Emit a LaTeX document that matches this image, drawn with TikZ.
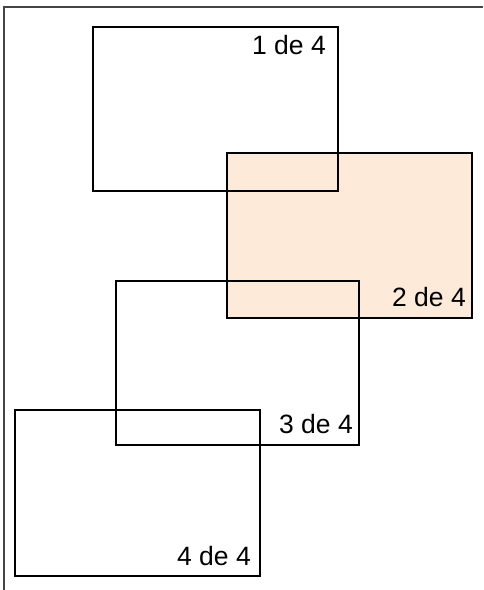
\documentclass[tikz,border=0pt]{standalone}
\usepackage{fontspec}
\setmainfont{Liberation Sans}
\definecolor{peach}{HTML}{FDEAD9}
\definecolor{framegray}{HTML}{444444}
\begin{document}
\begin{tikzpicture}[x=1pt,y=-1pt,
  card/.style={draw=black,line width=2.2pt},
  lbl/.style={anchor=base east,inner sep=0pt,font=\fontsize{26.5}{30}\selectfont}]
\useasboundingbox (0,0) rectangle (484,590);
\draw[framegray,line width=1.6pt] (4,590) -- (4,7) -- (483,7);
% box 2 (filled)
\draw[card,fill=peach] (227,153) rectangle (472,318);
% box 1
\draw[card] (93,27) rectangle (338,191);
% box 3
\draw[card] (116,281) rectangle (359,445);
% box 4
\draw[card] (15,410) rectangle (260,576);
\node[lbl] (l1) at (326,54) {1 de 4};
\node[lbl] (l2) at (466,306) {2 de 4};
\node[lbl] (l3) at (353,433) {3 de 4};
\node[lbl] (l4) at (251,565) {4 de 4};
\end{tikzpicture}
\end{document}
